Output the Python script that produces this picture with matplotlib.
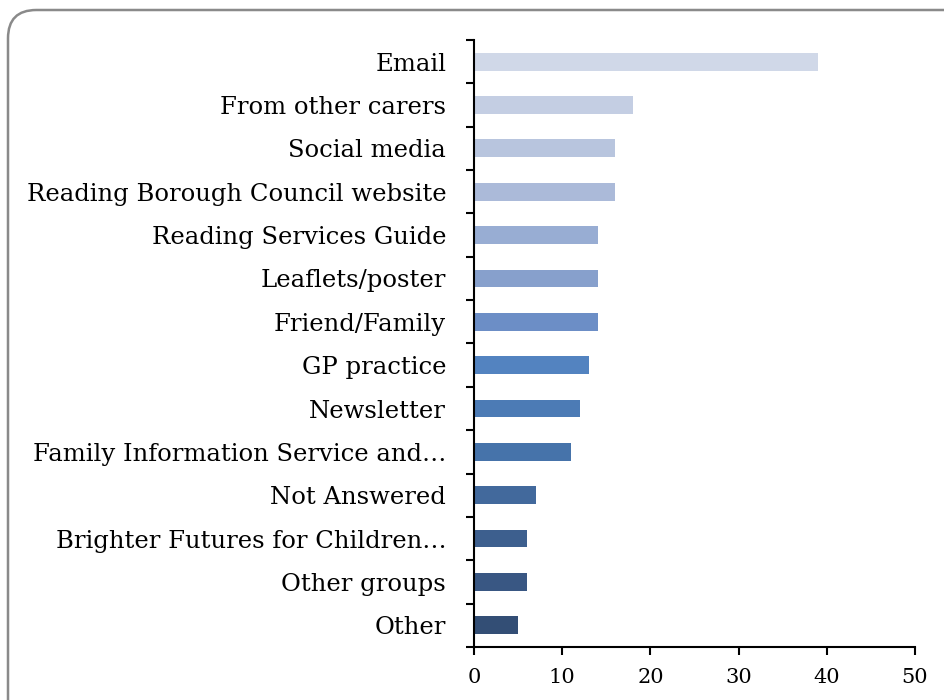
import matplotlib.pyplot as plt
from matplotlib.patches import FancyBboxPatch
import numpy as np

categories = [
    "Email",
    "From other carers",
    "Social media",
    "Reading Borough Council website",
    "Reading Services Guide",
    "Leaflets/poster",
    "Friend/Family",
    "GP practice",
    "Newsletter",
    "Family Information Service and\u2026",
    "Not Answered",
    "Brighter Futures for Children\u2026",
    "Other groups",
    "Other",
]
values = [39, 18, 16, 16, 14, 14, 14, 13, 12, 11, 7, 6, 6, 5]
bar_colors = [
    "#D0D8E8", "#C4CEE3", "#B8C5DE", "#ABBAD9", "#98ADD3", "#87A0CC",
    "#6C8EC6", "#5383C0", "#4C7BB5", "#4673AA", "#42699C", "#3D5F8E",
    "#395783", "#334E75",
]
x_ticks = [0, 10, 20, 30, 40, 50]

plt.rcParams["font.family"] = ["DejaVu Serif"]

fig = plt.figure(figsize=(9.45, 7.0), dpi=100)
ax = fig.add_axes([0.5016, 0.0757, 0.4667, 0.8672])

n = len(categories)
ypos = np.arange(n)
ax.barh(ypos, values, height=0.41, color=bar_colors, zorder=2)

ax.set_ylim(n - 0.5, -0.5)
ax.set_xlim(0, 50)
ax.set_xticks(x_ticks)
ax.set_xticklabels([str(t) for t in x_ticks], fontsize=15)

ax.set_yticks(ypos)
ax.set_yticklabels(categories, fontsize=17.5)
ax.set_yticks(np.arange(-0.5, n, 1.0), minor=True)
ax.tick_params(axis="y", which="major", length=0, pad=20)
ax.tick_params(axis="y", which="minor", length=6, width=1.5, direction="out")
ax.tick_params(axis="x", which="major", length=6, width=1.5, direction="out", pad=9)

for side in ("top", "right"):
    ax.spines[side].set_visible(False)
for side in ("left", "bottom"):
    ax.spines[side].set_linewidth(1.5)
    ax.spines[side].set_color("black")

# rounded frame around the chart area
W, H = 945.0, 700.0
frame = FancyBboxPatch(
    (8 / W, -30 / H), (980 - 8) / W, (690 + 30) / H,
    boxstyle="round,pad=0,rounding_size=0.03",
    transform=fig.transFigure, facecolor="none",
    edgecolor="#8a8a8a", linewidth=1.8, zorder=0,
    mutation_aspect=W / H,
)
fig.patches.append(frame)

fig.savefig("out.png", dpi=100)
